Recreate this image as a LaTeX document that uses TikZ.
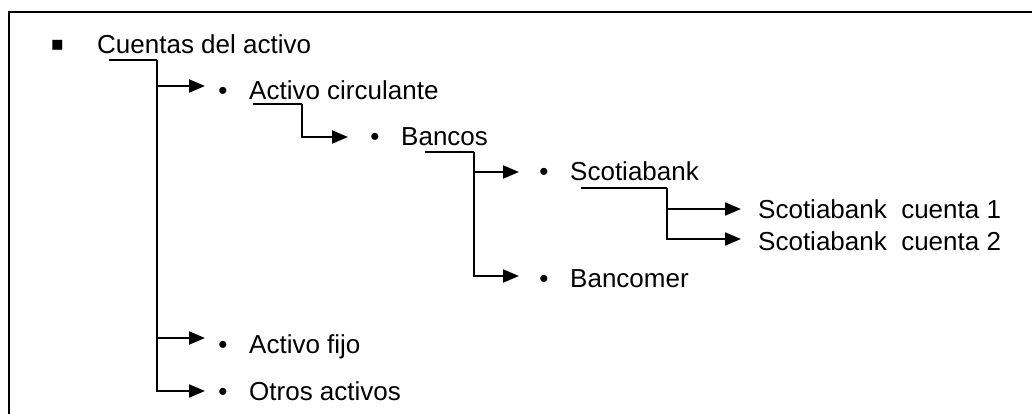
\documentclass[tikz,border=0pt]{standalone}
\usepackage{fontspec}
\setmainfont{Liberation Sans}
\newfontfamily\dejavu{DejaVu Sans}
\usetikzlibrary{arrows.meta}
\begin{document}
\begin{tikzpicture}[x=1pt,y=-1pt,
  lbl/.style={anchor=base west,inner sep=0pt,font=\fontsize{26}{30}\selectfont},
  bul/.style={anchor=base,inner sep=0pt,font=\fontsize{26}{30}\selectfont},
  link/.style={line width=2pt},
  arr/.style={line width=2pt,-{Triangle[length=16pt,width=13pt]}},
  frame/.style={line width=2.5pt}]
\useasboundingbox (0,0) rectangle (1032,414);
\draw[frame] (9,414) -- (9,12) -- (1032,12);

% level 0
\node[inner sep=0pt,font=\dejavu\fontsize{20}{24}\selectfont] (sq) at (57.5,45) {▪};
\node[lbl] (cuentas) at (97,54) {Cuentas del activo};

% level 1
\node[bul] (b1) at (223,100) {•};
\node[lbl] (circ) at (249,100) {Activo circulante};
\node[bul] (b2) at (223,353) {•};
\node[lbl] (fijo) at (249,353) {Activo fijo};
\node[bul] (b3) at (223,400) {•};
\node[lbl] (otros) at (249,400) {Otros activos};

% level 2
\node[bul] (b4) at (375,146) {•};
\node[lbl] (bancos) at (401,146) {Bancos};

% level 3
\node[bul] (b5) at (544,181) {•};
\node[lbl] (scotia) at (570,181) {Scotiabank};
\node[bul] (b6) at (544,287) {•};
\node[lbl] (bancomer) at (570,287) {Bancomer};

% level 4
\node[lbl] (cta1) at (758,218) {Scotiabank\ \ cuenta 1};
\node[lbl] (cta2) at (758,250) {Scotiabank\ \ cuenta 2};

% connector coordinates
\coordinate (u0s) at (109,60);  \coordinate (u0c) at (157,60);
\coordinate (t1) at (205,86);   \coordinate (t2) at (205,338);  \coordinate (t3) at (205,391);
\coordinate (u1s) at (253,104); \coordinate (u1c) at (302,104);
\coordinate (t4) at (348,137);
\coordinate (u2s) at (425,152); \coordinate (u2c) at (474,152);
\coordinate (t5) at (519,172);  \coordinate (t6) at (519,276);
\coordinate (u3s) at (581,188); \coordinate (u3c) at (667,188);
\coordinate (t7) at (741,209);  \coordinate (t8) at (741,239);

\draw[link] (u0s) -- (u0c);
\draw[arr] (u0c) |- (t1);
\draw[arr] (u0c) |- (t2);
\draw[arr] (u0c) |- (t3);

\draw[link] (u1s) -- (u1c);
\draw[arr] (u1c) |- (t4);

\draw[link] (u2s) -- (u2c);
\draw[arr] (u2c) |- (t5);
\draw[arr] (u2c) |- (t6);

\draw[link] (u3s) -- (u3c);
\draw[arr] (u3c) |- (t7);
\draw[arr] (u3c) |- (t8);
\end{tikzpicture}
\end{document}
